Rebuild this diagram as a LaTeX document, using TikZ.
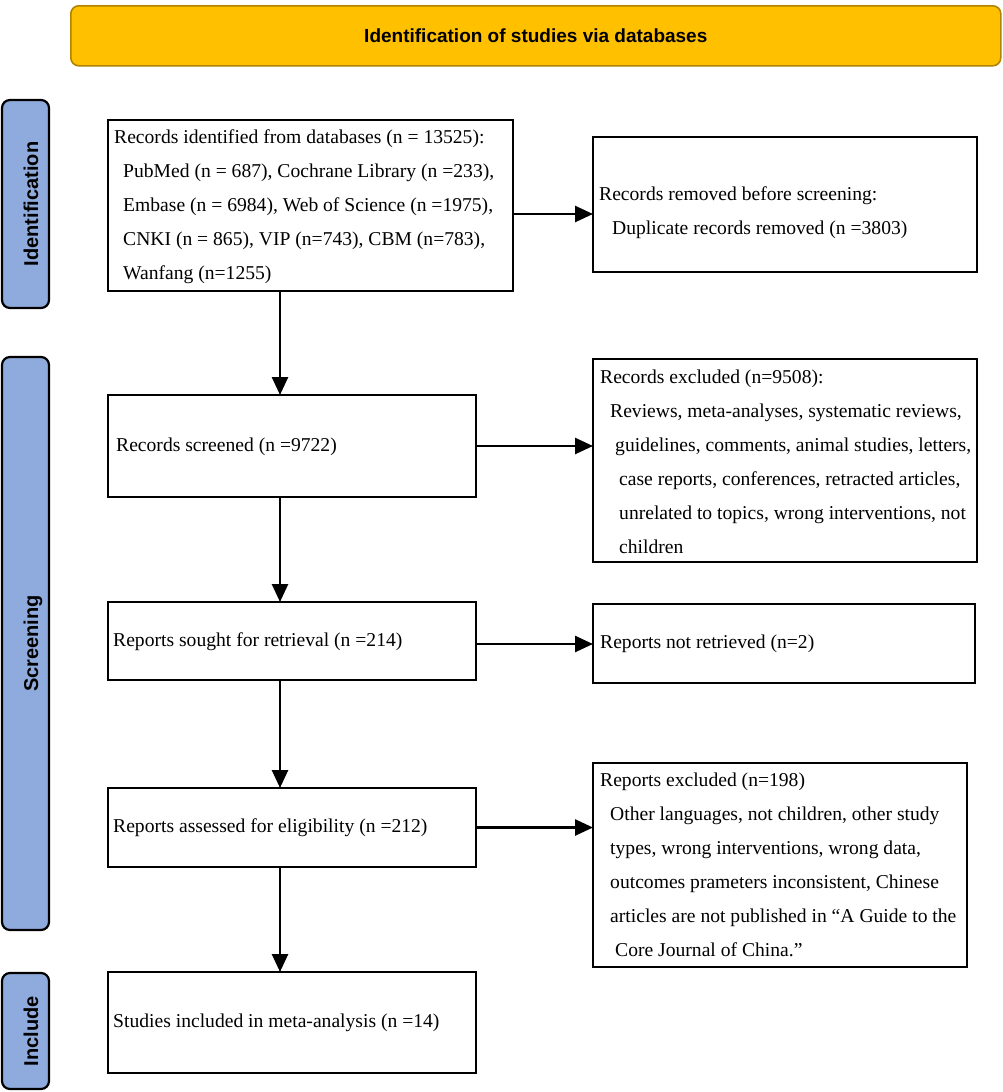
\documentclass[tikz,border=0pt]{standalone}
\usepackage{fontspec}
\setmainfont{Liberation Serif}
\newfontfamily\lsans{Liberation Sans}
\usetikzlibrary{arrows.meta,calc}
\definecolor{hdrfill}{RGB}{255,192,0}
\definecolor{hdrdraw}{RGB}{176,132,0}
\definecolor{barfill}{RGB}{143,170,220}
\begin{document}
\begin{tikzpicture}[x=1pt,y=-1pt,
  box/.style={draw=black, line width=2.8pt, rectangle, inner sep=0pt, outer sep=0pt, anchor=north west},
  bar/.style={draw=black, line width=2.2pt, fill=barfill, rounded corners=8pt, inner sep=0pt, outer sep=0pt, anchor=north west},
  lab/.style={font=\lsans\bfseries\fontsize{20}{24}\selectfont, rotate=90, inner sep=0pt, text height=14.4pt, text depth=0pt},
  txt/.style={inner sep=0pt, align=left, anchor=west, font=\fontsize{19.6}{34}\selectfont},
  arr/.style={line width=2.6pt, -{Triangle[length=18pt,width=16pt]}}]
\useasboundingbox (0,0) rectangle (1002,1092);
\fill[white] (0,0) rectangle (1002,1092);

% header
\node[draw=hdrdraw, fill=hdrfill, line width=1.6pt, rounded corners=8pt, minimum width=930pt, minimum height=60pt, anchor=north west, inner sep=0pt,
  font=\lsans\bfseries\fontsize{19}{23}\selectfont] (hdr) at (70,5) {Identification of studies via databases};

% side bars
\node[bar, minimum width=47pt, minimum height=208pt] (s1) at (2,100) {};
\node[bar, minimum width=47pt, minimum height=573pt] (s2) at (2,357) {};
\node[bar, minimum width=47pt, minimum height=116pt] (s3) at (2,973) {};
\node[lab] (l1) at (31,204) {Identification};
\node[lab] (l2) at (31,643.5) {Screening};
\node[lab] (l3) at (31,1031) {Include};

% boxes
\node[box, minimum width=405pt, minimum height=171pt] (b1) at (108,120) {};
\node[box, minimum width=384pt, minimum height=135pt] (b2) at (593,137) {};
\node[box, minimum width=368pt, minimum height=102pt] (b3) at (108,395) {};
\node[box, minimum width=384pt, minimum height=203pt] (b4) at (593,359) {};
\node[box, minimum width=368pt, minimum height=78pt] (b5) at (108,602) {};
\node[box, minimum width=382pt, minimum height=79pt] (b6) at (593,604) {};
\node[box, minimum width=368pt, minimum height=79pt] (b7) at (108,788) {};
\node[box, minimum width=374pt, minimum height=204pt] (b8) at (593,763) {};
\node[box, minimum width=368pt, minimum height=101pt] (b9) at (108,972) {};

% texts
\node[txt] (t1) at (114,207) {Records identified from databases (n = 13525):\\
\hspace*{9pt}PubMed (n = 687), Cochrane Library (n =233),\\
\hspace*{9pt}Embase (n = 6984), Web of Science (n =1975),\\
\hspace*{9pt}CNKI (n = 865), VIP (n=743), CBM (n=783),\\
\hspace*{9pt}Wanfang (n=1255)};
\node[txt] (t2) at (599,213) {Records removed before screening:\\
\hspace*{13pt}Duplicate records removed (n =3803)};
\node[txt] (t3) at (116,447) {Records screened (n =9722)};
\node[txt] (t4) at (600,461.5) {Records excluded (n=9508):\\
\hspace*{10pt}Reviews, meta-analyses, systematic reviews,\\
\hspace*{15pt}guidelines, comments, animal studies, letters,\\
\hspace*{19pt}case reports, conferences, retracted articles,\\
\hspace*{19pt}unrelated to topics, wrong interventions, not\\
\hspace*{19pt}children};
\node[txt] (t5) at (113,642) {Reports sought for retrieval (n =214)};
\node[txt] (t6) at (600,644) {Reports not retrieved (n=2)};
\node[txt] (t7) at (113,828) {Reports assessed for eligibility (n =212)};
\node[txt] (t8) at (600,865) {Reports excluded (n=198)\\
\hspace*{10pt}Other languages, not children, other study\\
\hspace*{10pt}types, wrong interventions, wrong data,\\
\hspace*{10pt}outcomes prameters inconsistent, Chinese\\
\hspace*{10pt}articles are not published in “A Guide to the\\
\hspace*{15pt}Core Journal of China.”};
\node[txt] (t9) at (113,1023) {Studies included in meta-analysis (n =14)};

% connectors
\coordinate (ax) at (280,0);
\coordinate (ay1) at (0,214);
\coordinate (ay3) at (0,644);
\draw[arr] (b1.south -| ax) -- (b3.north -| ax);
\draw[arr] (b3.south -| ax) -- (b5.north -| ax);
\draw[arr] (b5.south -| ax) -- (b7.north -| ax);
\draw[arr] (b7.south -| ax) -- (b9.north -| ax);
\draw[arr] (ay1 -| b1.east) -- (ay1 -| b2.west);
\draw[arr] (b3.east) -- (b3.east -| b4.west);
\draw[arr] (ay3 -| b5.east) -- (ay3 -| b6.west);
\draw[arr] (b7.east) -- (b7.east -| b8.west);
\end{tikzpicture}
\end{document}
